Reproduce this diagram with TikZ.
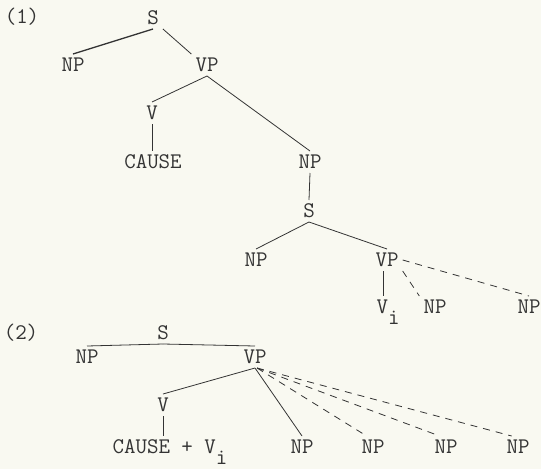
\documentclass[tikz,border=0pt]{standalone}
\usepackage{xcolor}
\usepackage{tikz}
\usetikzlibrary{positioning}
\definecolor{paper}{RGB}{249,249,241}
\definecolor{ink}{RGB}{52,52,52}
\tikzset{
  treefont/.style={font=\fontsize{22.3}{26}\selectfont\ttfamily},
  treelabel/.style={treefont, text=ink, inner sep=4pt, text height=13.6pt, text depth=0pt},
  treeedge/.style={draw=ink, line width=0.8pt},
  treeedgeheavy/.style={treeedge, line width=1.3pt},
  treedash/.style={treeedge, dash pattern=on 7pt off 6pt},
}
\newcommand{\lowi}{\raisebox{-10.5pt}{i}}

\begin{document}
\begin{tikzpicture}[x=1pt,y=-1pt]
	\fill[paper] (0,0) rectangle (541,469);
	\useasboundingbox (0,0) rectangle (541,469);

		% (1): CAUSE under its own V, embedded S below
			\node[treelabel] (num1) at (22,17) {(1)};
			\node[treelabel] (s1) at (153,18) {S};
			\node[treelabel] (np1) at (73,65) {NP};
			\node[treelabel] (vp1) at (207,65) {VP};
			\node[treelabel] (v1) at (152,113) {V};
			\node[treelabel] (cause1) at (153,162) {CAUSE};
			\node[treelabel] (np2) at (310,162) {NP};
			\node[treelabel] (s2) at (309,211) {S};
			\node[treelabel] (np3) at (256,260) {NP};
			\node[treelabel] (vp2) at (387,260) {VP};
			\node[treelabel] (vi1) at (388,307) {V\lowi};
			\node[treelabel] (np4) at (435,307) {NP};
			\node[treelabel] (np5) at (529,307) {NP};

			\draw[treeedgeheavy] (s1.south) -- (np1.north);
			\draw[treeedge] (s1.south east) -- (vp1.north west);
			\draw[treeedge] (vp1.south) -- (v1.north);
			\draw[treeedge] (vp1.south) -- (np2.north);
			\draw[treeedge] (v1.south) -- (v1.south |- cause1.north);
			\draw[treeedge] (np2.south) -- (s2.north);
			\draw[treeedge] (s2.south) -- (np3.north);
			\draw[treeedge] (s2.south) -- (vp2.north);
			\draw[treeedge] ([xshift=-4pt]vp2.south) -- ([xshift=-4pt]vp2.south |- vi1.north);
			\draw[treedash] (vp2.south east) -- (np4.north west);
			\draw[treedash] (vp2.east) -- (np5.north);

		% (2): CAUSE + V_i merged under one V
			\node[treelabel] (num2) at (21,333) {(2)};
			\node[treelabel] (s3) at (163,333) {S};
			\node[treelabel] (np6) at (87,357) {NP};
			\node[treelabel] (vp3) at (255,357) {VP};
			\node[treelabel] (v2) at (163,405) {V};
			\node[treelabel] (cause2) at (170,447) {CAUSE + V\lowi};
			\node[treelabel] (np7) at (302,447) {NP};
			\node[treelabel] (np8) at (373,447) {NP};
			\node[treelabel] (np9) at (446,447) {NP};
			\node[treelabel] (np10) at (518,447) {NP};

			\draw[treeedge] (s3.south) -- (np6.north);
			\draw[treeedge] (s3.south) -- (vp3.north);
			\draw[treeedge] (vp3.south) -- (v2.north);
			\draw[treeedge] (v2.south) -- (v2.south |- cause2.north);
			\draw[treeedge] (vp3.south) -- (np7.north);
			\foreach \np in {np8,np9,np10}
				\draw[treedash] ([xshift=2pt]vp3.south) -- (\np.120);
\end{tikzpicture}
\end{document}
